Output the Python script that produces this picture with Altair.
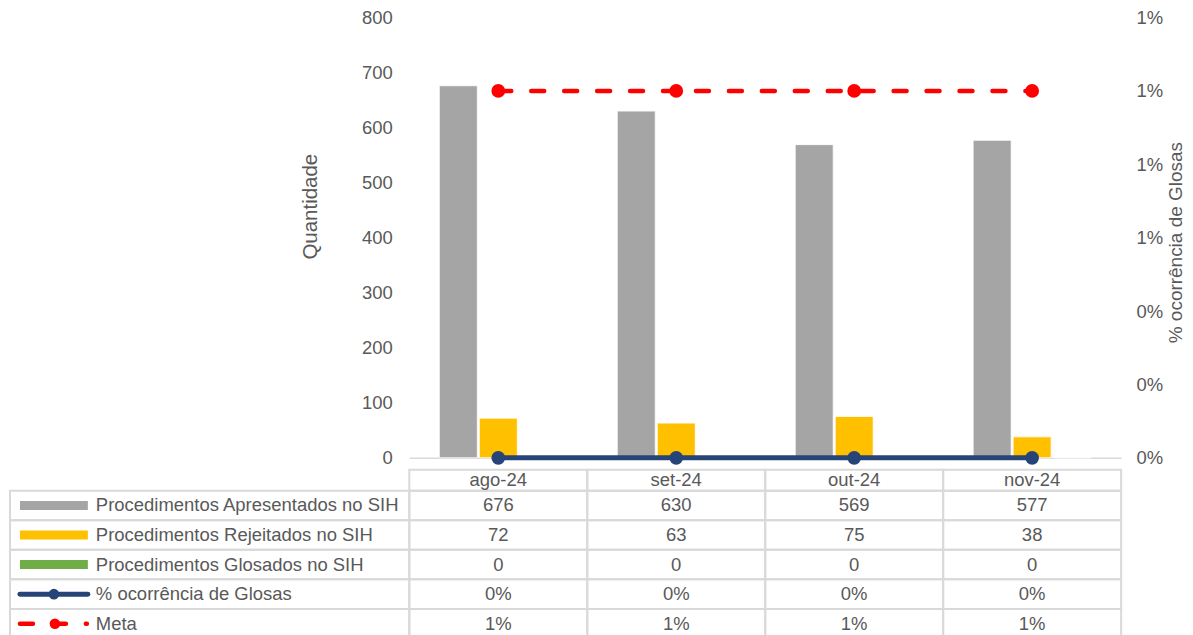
import altair as alt
import pandas as pd

# ---------------- data ----------------
months = ["ago-24", "set-24", "out-24", "nov-24"]
apresentados = [676, 630, 569, 577]
rejeitados = [72, 63, 75, 38]
glosados = [0, 0, 0, 0]
pct_glosas = [0.0, 0.0, 0.0, 0.0]
meta = [0.01, 0.01, 0.01, 0.01]

bar_series = ["Procedimentos Apresentados no SIH",
              "Procedimentos Rejeitados no SIH",
              "Procedimentos Glosados no SIH"]
line_series = ["% ocorrência de Glosas", "Meta"]
row_labels = bar_series + line_series

left_ticks = [0, 100, 200, 300, 400, 500, 600, 700, 800]
right_ticks = [0, 0.002, 0.004, 0.006, 0.008, 0.010, 0.012]

# ---------------- styles ----------------
FONT = "Liberation Sans"
TXT = "#595959"
GRID = "#D9D9D9"
bar_colors = ["#A5A5A5", "#FFC000", "#70AD47"]
BLUE = "#264478"
RED = "#FF0000"
FS = 18.5
PLOT_W, PLOT_H = 713, 441
LEG_W = 400
TABLE_H = 169
HEADER = 21 / 29.6  # header row height in row units

# ---------------- main chart ----------------
bars_df = pd.DataFrame({
    "month": months * 3,
    "series": [s for s in bar_series for _ in months],
    "value": apresentados + rejeitados + glosados,
})
lines_df = pd.DataFrame({"month": months, "pct": pct_glosas, "meta": meta})

x_enc = alt.X("month:N", sort=months,
              scale=alt.Scale(domain=months, paddingInner=0, paddingOuter=0),
              axis=alt.Axis(labels=False, ticks=False, title=None, grid=False,
                            domainColor=GRID, domainWidth=1.5))

bars = alt.Chart(bars_df).mark_bar(stroke="white", strokeWidth=0.8).encode(
    x=x_enc,
    xOffset=alt.XOffset("series:N", sort=bar_series,
                        scale=alt.Scale(domain=bar_series, paddingInner=0.05, paddingOuter=0.75)),
    y=alt.Y("value:Q", scale=alt.Scale(domain=[0, 800], nice=False),
            axis=alt.Axis(values=left_ticks, domain=False, ticks=False, grid=False,
                          labelPadding=17, labelFontSize=FS, labelColor=TXT, labelFont=FONT,
                          title="Quantidade", titleFontSize=20.5, titleColor=TXT,
                          titleFont=FONT, titleFontWeight="normal",
                          titleAngle=270, titleBaseline="middle",
                          titleX=-99, titleY=189)),
    color=alt.Color("series:N", scale=alt.Scale(domain=bar_series, range=bar_colors), legend=None),
)

right_axis = alt.Axis(orient="right", values=right_ticks, format=".0%", domain=False,
                      ticks=False, grid=False, labelPadding=15, labelFontSize=FS,
                      labelColor=TXT, labelFont=FONT,
                      title="% ocorrência de Glosas", titleFontSize=19, titleColor=TXT,
                      titleFont=FONT, titleFontWeight="normal", titleAngle=270,
                      titleBaseline="middle", titleX=54, titleY=225)
right_scale = alt.Scale(domain=[0, 0.012], nice=False)

base_l = alt.Chart(lines_df).encode(x=alt.X("month:N", sort=months))
meta_line = base_l.mark_line(color=RED, strokeWidth=4.5, strokeDash=[13, 20],
                             strokeCap="round").encode(
    y=alt.Y("meta:Q", scale=right_scale, axis=right_axis))
meta_pts = base_l.mark_circle(color=RED, size=190, opacity=1).encode(
    y=alt.Y("meta:Q", scale=right_scale, axis=right_axis))
pct_line = base_l.mark_line(color=BLUE, strokeWidth=5, strokeCap="round").encode(
    y=alt.Y("pct:Q", scale=right_scale, axis=right_axis))
pct_pts = base_l.mark_circle(color=BLUE, size=190, opacity=1).encode(
    y=alt.Y("pct:Q", scale=right_scale, axis=right_axis))

main = alt.layer(bars, alt.layer(meta_line, meta_pts, pct_line, pct_pts)).resolve_scale(
    y="independent").properties(width=PLOT_W, height=PLOT_H)

spacer = alt.Chart(pd.DataFrame({"a": [0]})).mark_point(opacity=0).encode(
    x=alt.X("a:Q", axis=None), y=alt.Y("a:Q", axis=None)
).properties(width=LEG_W, height=PLOT_H)

# ---------------- data table ----------------
def fmt_int(v):
    return f"{v:d}"

def fmt_pct(v):
    return f"{v:.0%}"

cells = []
for j, m in enumerate(months):
    cells.append({"month": m, "row": -1, "label": m})
    cells.append({"month": m, "row": 0, "label": fmt_int(apresentados[j])})
    cells.append({"month": m, "row": 1, "label": fmt_int(rejeitados[j])})
    cells.append({"month": m, "row": 2, "label": fmt_int(glosados[j])})
    cells.append({"month": m, "row": 3, "label": fmt_pct(pct_glosas[j])})
    cells.append({"month": m, "row": 4, "label": fmt_pct(meta[j])})
cells_df = pd.DataFrame(cells)

ty_scale = alt.Scale(domain=[-HEADER, 5], reverse=True, nice=False, zero=False)

tbase = alt.Chart(cells_df).transform_calculate(
    top=f"datum.row < 0 ? {-HEADER} : datum.row",
    bottom="datum.row < 0 ? 0 : datum.row + 1",
    mid="datum.row < 0 ? " + str(-HEADER / 2) + " : datum.row + 0.5",
)
tx = alt.X("month:N", sort=months, scale=alt.Scale(domain=months, paddingInner=0, paddingOuter=0),
           axis=None)
t_cells = tbase.mark_rect(fillOpacity=0, stroke=GRID, strokeWidth=2).encode(
    x=tx, y=alt.Y("top:Q", scale=ty_scale, axis=None), y2="bottom:Q")
t_text = tbase.mark_text(fontSize=FS, color=TXT, font=FONT, baseline="middle").encode(
    x=tx, y=alt.Y("mid:Q", scale=ty_scale, axis=None), text="label:N")
month_table = alt.layer(t_cells, t_text).properties(width=PLOT_W, height=TABLE_H)

leg_df = pd.DataFrame({"row": list(range(len(row_labels))), "label": row_labels})
lbase = alt.Chart(leg_df).transform_calculate(
    top="datum.row", bottom="datum.row + 1", mid="datum.row + 0.5")
l_cells = lbase.mark_rect(fillOpacity=0, stroke=GRID, strokeWidth=2).encode(
    x=alt.value(0), x2=alt.value(LEG_W),
    y=alt.Y("top:Q", scale=ty_scale, axis=None), y2="bottom:Q")
l_text = lbase.mark_text(fontSize=FS, color=TXT, font=FONT, align="left",
                         baseline="middle").encode(
    x=alt.value(86), y=alt.Y("mid:Q", scale=ty_scale, axis=None), text="label:N")
l_bars = lbase.transform_filter("datum.row < 3").mark_rule(strokeWidth=9, strokeCap="butt").encode(
    x=alt.value(10), x2=alt.value(78),
    y=alt.Y("mid:Q", scale=ty_scale, axis=None),
    color=alt.Color("label:N", scale=alt.Scale(domain=bar_series, range=bar_colors), legend=None))
l_blue = lbase.transform_filter("datum.row == 3").mark_rule(
    strokeWidth=5, strokeCap="round", color=BLUE).encode(
    x=alt.value(10), x2=alt.value(78), y=alt.Y("mid:Q", scale=ty_scale, axis=None))
l_blue_pt = lbase.transform_filter("datum.row == 3").mark_circle(
    size=113, color=BLUE, opacity=1).encode(
    x=alt.value(44), y=alt.Y("mid:Q", scale=ty_scale, axis=None))
l_red = lbase.transform_filter("datum.row == 4").mark_rule(
    strokeWidth=4.5, strokeCap="round", strokeDash=[13, 20], color=RED).encode(
    x=alt.value(10), x2=alt.value(77), y=alt.Y("mid:Q", scale=ty_scale, axis=None))
l_red_pt = lbase.transform_filter("datum.row == 4").mark_circle(
    size=113, color=RED, opacity=1).encode(
    x=alt.value(45), y=alt.Y("mid:Q", scale=ty_scale, axis=None))
legend_col = alt.layer(l_cells, l_text, l_bars, l_blue, l_blue_pt, l_red, l_red_pt).properties(
    width=LEG_W, height=TABLE_H)

chart = alt.concat(spacer, main, legend_col, month_table, columns=2,
                   spacing={"row": 12, "column": 0}, bounds="flush", align="each").properties(
    padding={"left": 1, "top": 0, "right": 0, "bottom": 0}
).configure(font=FONT).configure_view(strokeWidth=0, stroke="transparent")

chart.save("out.html", embed_options={"renderer": "svg", "actions": False})
